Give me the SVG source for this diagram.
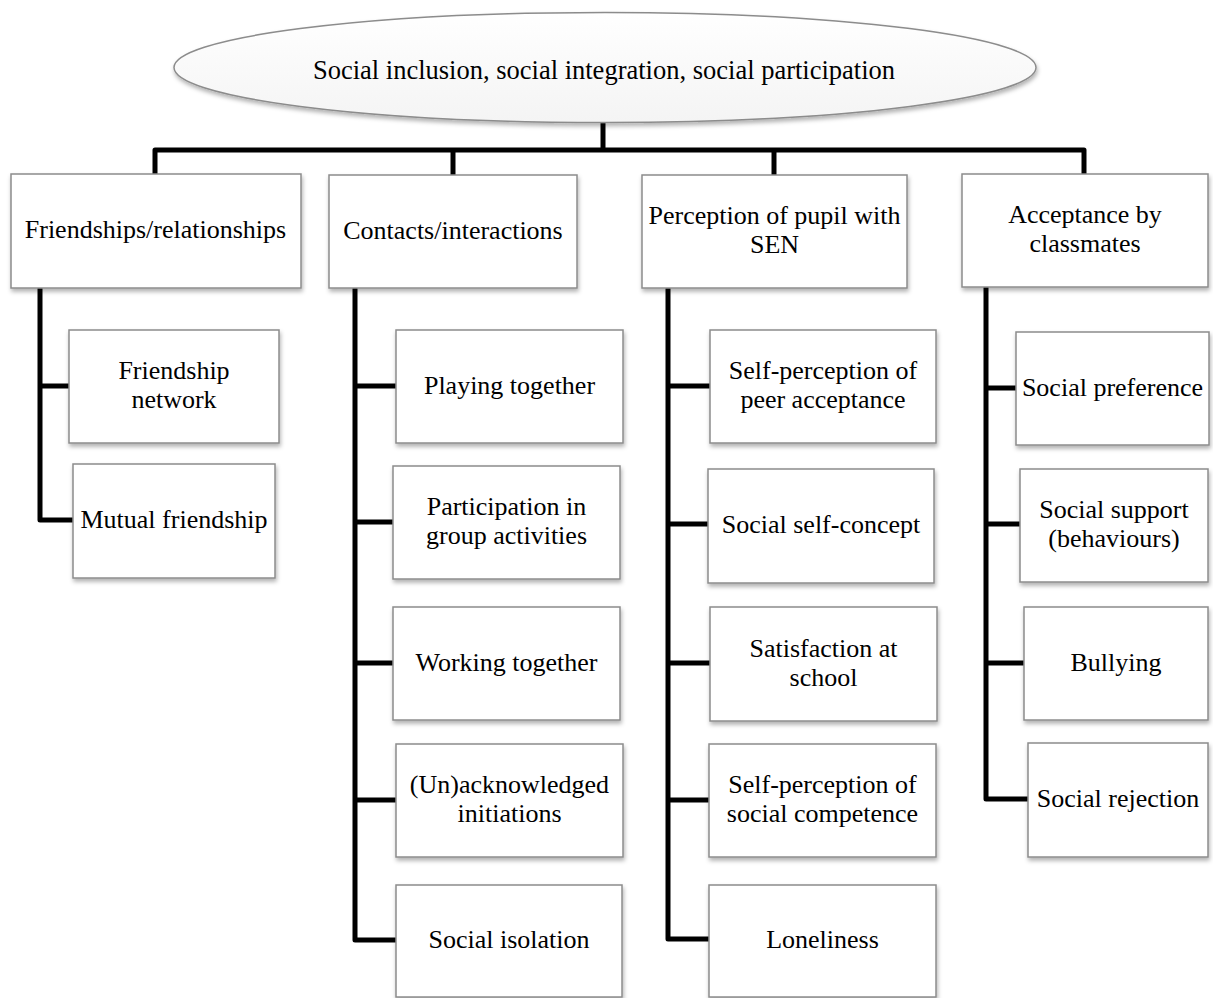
<svg xmlns="http://www.w3.org/2000/svg" width="1213" height="998" viewBox="0 0 1213 998">
<defs>
<filter id="sh" x="-10%" y="-10%" width="125%" height="130%">
<feDropShadow dx="1" dy="3" stdDeviation="2" flood-color="#000" flood-opacity="0.3"/>
</filter>
<linearGradient id="eg" x1="0" y1="0" x2="0" y2="1">
<stop offset="0" stop-color="#ffffff"/>
<stop offset="1" stop-color="#f4f4f4"/>
</linearGradient>
</defs>
<style>
.box{fill:#fff;stroke:#8c8c8c;stroke-width:1.5;filter:url(#sh)}
.ell{fill:url(#eg);stroke:#8c8c8c;stroke-width:1.5;filter:url(#sh)}
.t{font-family:"Liberation Serif","Times New Roman",serif;font-size:26px;fill:#000;text-anchor:middle}
.c{fill:none;stroke:#000;stroke-width:5;stroke-linejoin:round}
</style>
<rect width="1213" height="998" fill="#fff"/>
<g id="connectors">
<path class="c" d="M603,123 V150"/>
<path class="c" d="M155,174 V150 H1084 V174"/>
<path class="c" d="M453,150 V175"/>
<path class="c" d="M774,150 V175"/>
<path class="c" d="M40,288 V520 H73"/>
<path class="c" d="M40,386 H69"/>
<path class="c" d="M355,288 V940 H396"/>
<path class="c" d="M355,386 H396"/>
<path class="c" d="M355,522 H393"/>
<path class="c" d="M355,663 H393"/>
<path class="c" d="M355,800 H396"/>
<path class="c" d="M668,288 V939 H709"/>
<path class="c" d="M668,386 H710"/>
<path class="c" d="M668,524 H708"/>
<path class="c" d="M668,663 H710"/>
<path class="c" d="M668,800 H709"/>
<path class="c" d="M986,287 V799 H1028"/>
<path class="c" d="M986,388 H1016"/>
<path class="c" d="M986,524 H1020"/>
<path class="c" d="M986,663 H1024"/>
</g>
<g id="root">
<ellipse class="ell" cx="605" cy="67.5" rx="431" ry="55"/>
<text class="t" x="604" y="79" style="font-size:26.5px">Social inclusion, social integration, social participation</text>
</g>
<g id="n-friendships">
<rect class="box" x="11" y="174" width="290" height="114"/>
<text class="t" x="155.5" y="238">Friendships/relationships</text>
</g>
<g id="n-contacts">
<rect class="box" x="329" y="175" width="248" height="113"/>
<text class="t" x="453" y="238.5">Contacts/interactions</text>
</g>
<g id="n-perception">
<rect class="box" x="642" y="175" width="265" height="113"/>
<text class="t" x="774.5" y="224">Perception of pupil with<tspan x="774.5" dy="29">SEN</tspan></text>
</g>
<g id="n-acceptance">
<rect class="box" x="962" y="174" width="246" height="113"/>
<text class="t" x="1085" y="223">Acceptance by<tspan x="1085" dy="29">classmates</tspan></text>
</g>
<g id="n-friendship-network">
<rect class="box" x="69" y="330" width="210" height="113"/>
<text class="t" x="174" y="379">Friendship<tspan x="174" dy="29">network</tspan></text>
</g>
<g id="n-mutual-friendship">
<rect class="box" x="73" y="464" width="202" height="114"/>
<text class="t" x="174" y="528">Mutual friendship</text>
</g>
<g id="n-playing">
<rect class="box" x="396" y="330" width="227" height="113"/>
<text class="t" x="509.5" y="393.5">Playing together</text>
</g>
<g id="n-participation">
<rect class="box" x="393" y="466" width="227" height="113"/>
<text class="t" x="506.5" y="515">Participation in<tspan x="506.5" dy="29">group activities</tspan></text>
</g>
<g id="n-working">
<rect class="box" x="393" y="607" width="227" height="113"/>
<text class="t" x="506.5" y="670.5">Working together</text>
</g>
<g id="n-initiations">
<rect class="box" x="396" y="744" width="227" height="113"/>
<text class="t" x="509.5" y="793">(Un)acknowledged<tspan x="509.5" dy="29">initiations</tspan></text>
</g>
<g id="n-isolation">
<rect class="box" x="396" y="885" width="226" height="112"/>
<text class="t" x="509" y="948">Social isolation</text>
</g>
<g id="n-peer-acceptance">
<rect class="box" x="710" y="330" width="226" height="113"/>
<text class="t" x="823" y="379">Self-perception of<tspan x="823" dy="29">peer acceptance</tspan></text>
</g>
<g id="n-self-concept">
<rect class="box" x="708" y="469" width="226" height="114"/>
<text class="t" x="821" y="533">Social self-concept</text>
</g>
<g id="n-satisfaction">
<rect class="box" x="710" y="607" width="227" height="114"/>
<text class="t" x="823.5" y="656.5">Satisfaction at<tspan x="823.5" dy="29">school</tspan></text>
</g>
<g id="n-social-competence">
<rect class="box" x="709" y="744" width="227" height="113"/>
<text class="t" x="822.5" y="793">Self-perception of<tspan x="822.5" dy="29">social competence</tspan></text>
</g>
<g id="n-loneliness">
<rect class="box" x="709" y="885" width="227" height="112"/>
<text class="t" x="822.5" y="948">Loneliness</text>
</g>
<g id="n-social-preference">
<rect class="box" x="1016" y="332" width="193" height="113"/>
<text class="t" x="1112.5" y="395.5">Social preference</text>
</g>
<g id="n-social-support">
<rect class="box" x="1020" y="469" width="188" height="113"/>
<text class="t" x="1114" y="518">Social support<tspan x="1114" dy="29">(behaviours)</tspan></text>
</g>
<g id="n-bullying">
<rect class="box" x="1024" y="607" width="184" height="113"/>
<text class="t" x="1116" y="670.5">Bullying</text>
</g>
<g id="n-rejection">
<rect class="box" x="1028" y="743" width="180" height="114"/>
<text class="t" x="1118" y="807">Social rejection</text>
</g>
</svg>
